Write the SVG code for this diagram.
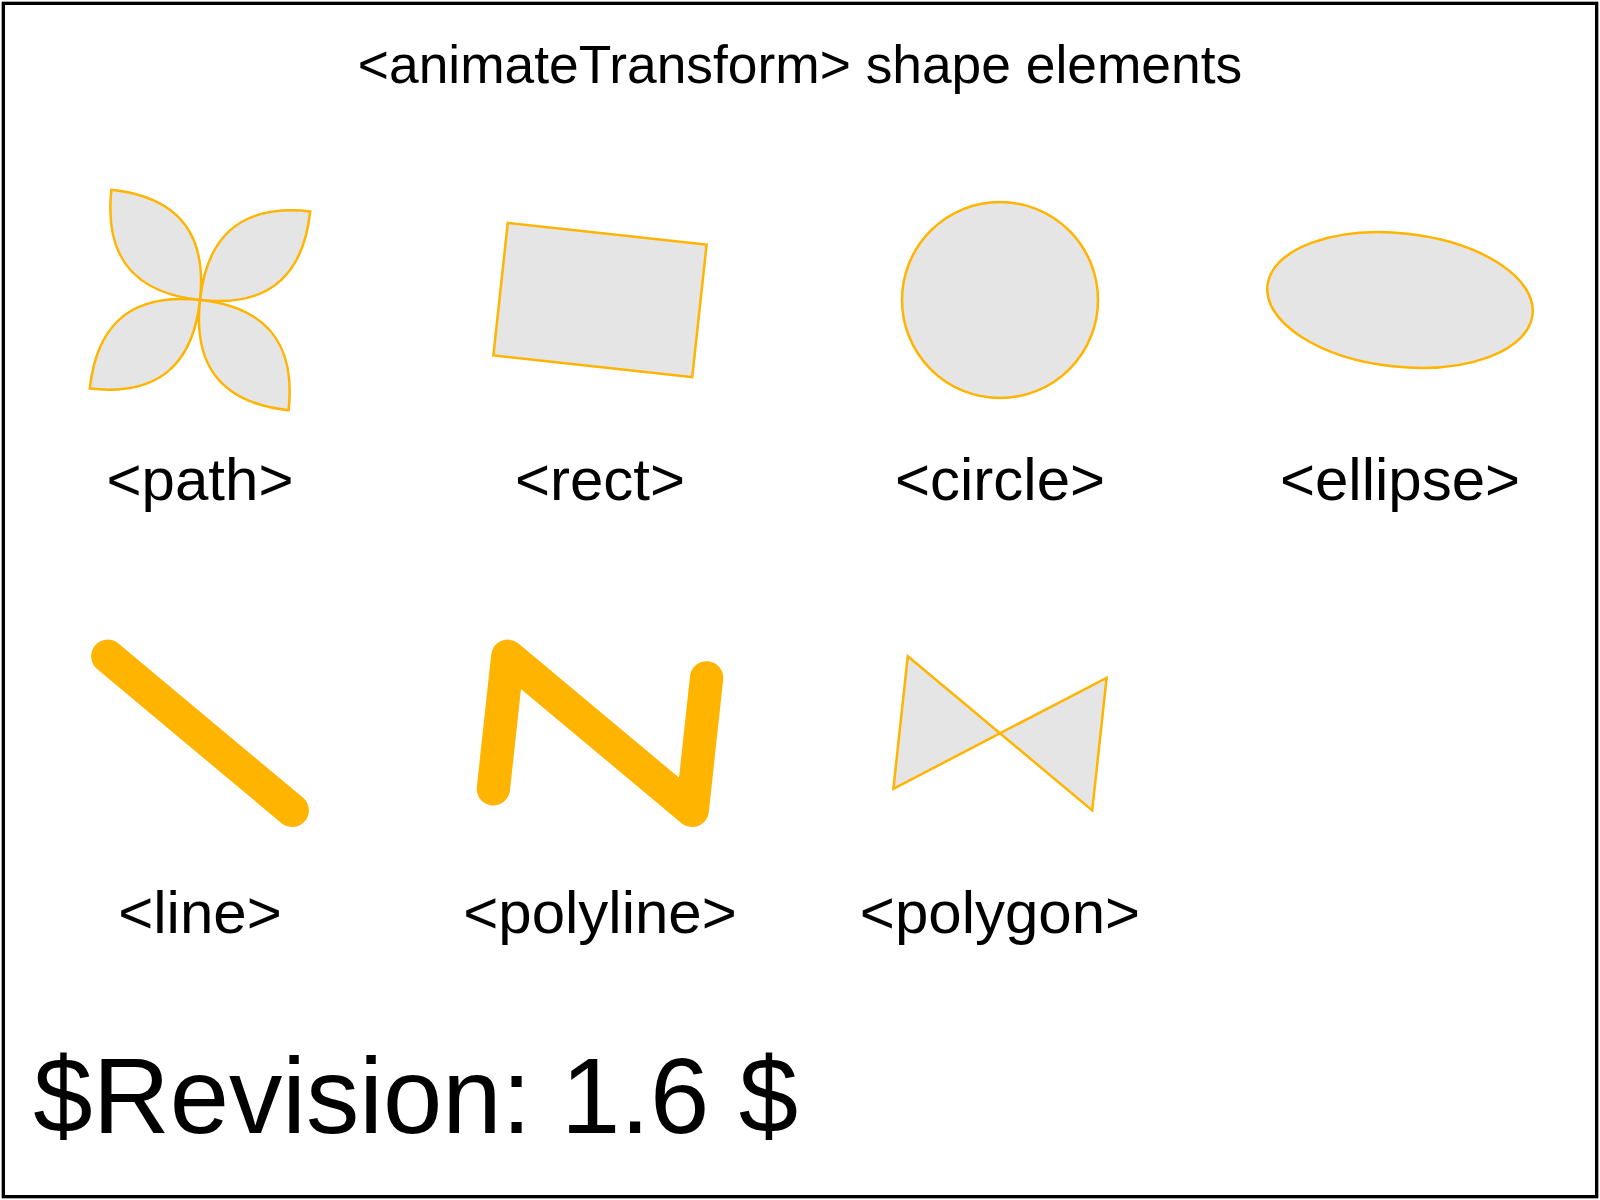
<svg xmlns="http://www.w3.org/2000/svg" width="1600" height="1200" viewBox="0 0 1600 1200">
  <style>
    .shape { fill: #e5e5e5; stroke: #ffb400; stroke-width: 2.5; }
    .thick { fill: none; stroke: #ffb400; stroke-width: 33.33; stroke-linecap: round; stroke-linejoin: round; }
    .label { font-family: "Liberation Sans", Arial, sans-serif; font-size: 60px; text-anchor: middle; fill: #000; }
    .title { font-family: "Liberation Sans", Arial, sans-serif; font-size: 53.33px; text-anchor: middle; fill: #000; }
    .rev { font-family: "Liberation Sans", Arial, sans-serif; font-size: 106.67px; fill: #000; }
  </style>
  <rect x="0" y="0" width="1600" height="1200" fill="#fff"/>
  <text class="title" x="800" y="83.33">&lt;animateTransform&gt; shape elements</text>

  <g id="node-path">
    <path class="shape" transform="translate(200,300) rotate(6.2)" d="M0,0 C-62,0 -100,-28 -100,-100 C-28,-100 0,-62 0,0 Z M0,0 C0,-62 28,-100 100,-100 C100,-28 62,0 0,0 Z M0,0 C62,0 100,28 100,100 C28,100 0,62 0,0 Z M0,0 C0,62 -28,100 -100,100 C-100,28 -62,0 0,0 Z"/>
    <text class="label" x="200" y="500">&lt;path&gt;</text>
  </g>
  <g id="node-rect">
    <rect class="shape" transform="translate(600,300) rotate(6.2)" x="-100" y="-66.67" width="200" height="133.33"/>
    <text class="label" x="600" y="500">&lt;rect&gt;</text>
  </g>
  <g id="node-circle">
    <circle class="shape" cx="1000" cy="300" r="98"/>
    <text class="label" x="1000" y="500">&lt;circle&gt;</text>
  </g>
  <g id="node-ellipse">
    <ellipse class="shape" transform="translate(1400,300) rotate(6.2)" cx="0" cy="0" rx="133.33" ry="66.67"/>
    <text class="label" x="1400" y="500">&lt;ellipse&gt;</text>
  </g>
  <g id="node-line">
    <line class="thick" transform="translate(200,733.33) rotate(6.2)" x1="-100" y1="-66.67" x2="100" y2="66.67"/>
    <text class="label" x="200" y="933.33">&lt;line&gt;</text>
  </g>
  <g id="node-polyline">
    <polyline class="thick" transform="translate(600,733.33) rotate(6.2)" points="-100,66.67 -100,-66.67 100,66.67 100,-66.67"/>
    <text class="label" x="600" y="933.33">&lt;polyline&gt;</text>
  </g>
  <g id="node-polygon">
    <polygon class="shape" transform="translate(1000,733.33) rotate(6.2)" points="-100,-66.67 100,66.67 100,-66.67 -100,66.67"/>
    <text class="label" x="1000" y="933.33">&lt;polygon&gt;</text>
  </g>
  <g id="connectors"/>

  <text class="rev" x="33.33" y="1133.33">$Revision: 1.6 $</text>
  <rect x="3.33" y="3.33" width="1593.33" height="1193.33" fill="none" stroke="#000" stroke-width="3.33"/>
</svg>
